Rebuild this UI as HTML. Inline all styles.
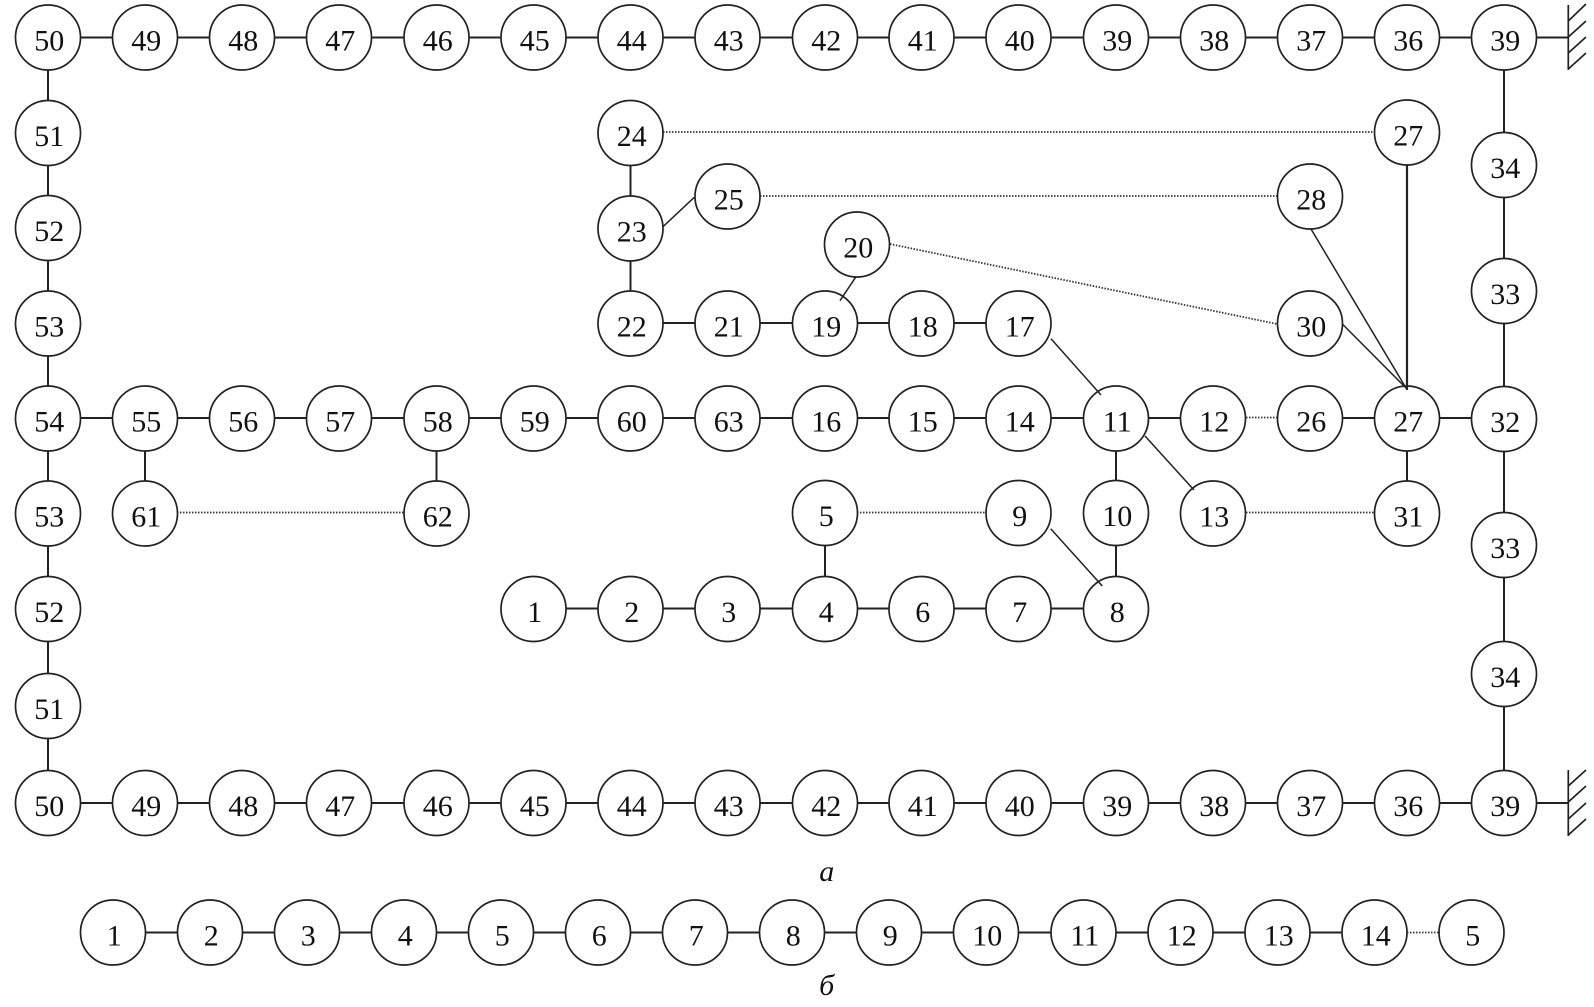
<!DOCTYPE html>
<html>
<head>
<meta charset="utf-8">
<style>
html,body{margin:0;padding:0;background:#fff;}
svg{display:block;filter:blur(.35px);}
.l line{stroke:#222;stroke-width:2;}
.t line{stroke:#222;stroke-width:1.5;}
.w line{stroke:#222;stroke-width:1.7;}
.d line{stroke:#333;stroke-width:1.8;stroke-dasharray:1.5 1.5;}
.n circle{fill:#fff;stroke:#222;stroke-width:1.7;}
.n text{font-family:"Liberation Serif",serif;font-size:30px;fill:#111;text-anchor:middle;transform:translate(1.2px,12.8px);}
.c{font-family:"Liberation Serif",serif;font-style:italic;font-size:30px;fill:#111;text-anchor:middle;}
</style>
</head>
<body>
<svg width="1594" height="1007" viewBox="0 0 1594 1007" xmlns="http://www.w3.org/2000/svg">
<rect width="1594" height="1007" fill="#fff"/>
<g class="l">
<line x1="48" y1="37.5" x2="1568" y2="37.5"/>
<line x1="48" y1="803" x2="1568" y2="803"/>
<line x1="48" y1="37.5" x2="48" y2="803"/>
<line x1="1504" y1="37.5" x2="1504" y2="803"/>
<line x1="48" y1="418" x2="1213" y2="418"/>
<line x1="1310" y1="418" x2="1504" y2="418"/>
<line x1="145" y1="418.5" x2="145" y2="513"/>
<line x1="436.5" y1="418.5" x2="436.5" y2="513"/>
<line x1="533.5" y1="608.5" x2="1116" y2="608.5"/>
<line x1="825" y1="513" x2="825" y2="609"/>
<line x1="1116" y1="418.5" x2="1116" y2="609"/>
<line x1="1407" y1="418.5" x2="1407" y2="513"/>
<line x1="630.5" y1="133" x2="630.5" y2="323.5"/>
<line x1="630.5" y1="323" x2="1019" y2="323"/>
<line x1="113" y1="932.5" x2="1375" y2="932.5"/>
</g>
<g class="d">
<line x1="663" y1="132" x2="1375" y2="132"/>
<line x1="760" y1="196" x2="1277" y2="196"/>
<line x1="890" y1="244" x2="1277" y2="324"/>
<line x1="1246" y1="417.5" x2="1277" y2="417.5"/>
<line x1="1246" y1="512.5" x2="1374" y2="512.5"/>
<line x1="857" y1="512.5" x2="986" y2="512.5"/>
<line x1="177" y1="512.5" x2="404" y2="512.5"/>
<line x1="1407" y1="932.5" x2="1439" y2="932.5"/>
</g>
<g class="w">
<line x1="1568.3" y1="5" x2="1568.3" y2="70"/>
<line x1="1568.3" y1="21" x2="1586" y2="4"/>
<line x1="1568.3" y1="37" x2="1586" y2="21"/>
<line x1="1568.3" y1="53" x2="1586" y2="37"/>
<line x1="1568.3" y1="69" x2="1586" y2="53"/>
<line x1="1568.3" y1="770" x2="1568.3" y2="836"/>
<line x1="1568.3" y1="786" x2="1586" y2="770"/>
<line x1="1568.3" y1="802" x2="1586" y2="786"/>
<line x1="1568.3" y1="819" x2="1586" y2="803"/>
<line x1="1568.3" y1="835" x2="1586" y2="819"/>
</g>
<g class="n">
<g transform="translate(48 37.5)"><circle r="32.5"/><text>50</text></g>
<g transform="translate(145 37.5)"><circle r="32.5"/><text>49</text></g>
<g transform="translate(242 37.5)"><circle r="32.5"/><text>48</text></g>
<g transform="translate(339 37.5)"><circle r="32.5"/><text>47</text></g>
<g transform="translate(436.5 37.5)"><circle r="32.5"/><text>46</text></g>
<g transform="translate(533.5 37.5)"><circle r="32.5"/><text>45</text></g>
<g transform="translate(630.5 37.5)"><circle r="32.5"/><text>44</text></g>
<g transform="translate(727.5 37.5)"><circle r="32.5"/><text>43</text></g>
<g transform="translate(825 37.5)"><circle r="32.5"/><text>42</text></g>
<g transform="translate(921.5 37.5)"><circle r="32.5"/><text>41</text></g>
<g transform="translate(1018.5 37.5)"><circle r="32.5"/><text>40</text></g>
<g transform="translate(1116 37.5)"><circle r="32.5"/><text>39</text></g>
<g transform="translate(1213 37.5)"><circle r="32.5"/><text>38</text></g>
<g transform="translate(1310 37.5)"><circle r="32.5"/><text>37</text></g>
<g transform="translate(1407 37.5)"><circle r="32.5"/><text>36</text></g>
<g transform="translate(1504 37.5)"><circle r="32.5"/><text>39</text></g>
<g transform="translate(48 803)"><circle r="32.5"/><text>50</text></g>
<g transform="translate(145 803)"><circle r="32.5"/><text>49</text></g>
<g transform="translate(242 803)"><circle r="32.5"/><text>48</text></g>
<g transform="translate(339 803)"><circle r="32.5"/><text>47</text></g>
<g transform="translate(436.5 803)"><circle r="32.5"/><text>46</text></g>
<g transform="translate(533.5 803)"><circle r="32.5"/><text>45</text></g>
<g transform="translate(630.5 803)"><circle r="32.5"/><text>44</text></g>
<g transform="translate(727.5 803)"><circle r="32.5"/><text>43</text></g>
<g transform="translate(825 803)"><circle r="32.5"/><text>42</text></g>
<g transform="translate(921.5 803)"><circle r="32.5"/><text>41</text></g>
<g transform="translate(1018.5 803)"><circle r="32.5"/><text>40</text></g>
<g transform="translate(1116 803)"><circle r="32.5"/><text>39</text></g>
<g transform="translate(1213 803)"><circle r="32.5"/><text>38</text></g>
<g transform="translate(1310 803)"><circle r="32.5"/><text>37</text></g>
<g transform="translate(1407 803)"><circle r="32.5"/><text>36</text></g>
<g transform="translate(1504 803)"><circle r="32.5"/><text>39</text></g>
<g transform="translate(48 133)"><circle r="32.5"/><text>51</text></g>
<g transform="translate(48 228)"><circle r="32.5"/><text>52</text></g>
<g transform="translate(48 323.5)"><circle r="32.5"/><text>53</text></g>
<g transform="translate(48 418.5)"><circle r="32.5"/><text>54</text></g>
<g transform="translate(48 513.5)"><circle r="32.5"/><text>53</text></g>
<g transform="translate(48 609)"><circle r="32.5"/><text>52</text></g>
<g transform="translate(48 706)"><circle r="32.5"/><text>51</text></g>
<g transform="translate(1504 165)"><circle r="32.5"/><text>34</text></g>
<g transform="translate(1504 291)"><circle r="32.5"/><text>33</text></g>
<g transform="translate(1504 419)"><circle r="32.5"/><text>32</text></g>
<g transform="translate(1504 545)"><circle r="32.5"/><text>33</text></g>
<g transform="translate(1504 674)"><circle r="32.5"/><text>34</text></g>
<g transform="translate(145 418.5)"><circle r="32.5"/><text>55</text></g>
<g transform="translate(242 418.5)"><circle r="32.5"/><text>56</text></g>
<g transform="translate(339 418.5)"><circle r="32.5"/><text>57</text></g>
<g transform="translate(436.5 418.5)"><circle r="32.5"/><text>58</text></g>
<g transform="translate(533.5 418.5)"><circle r="32.5"/><text>59</text></g>
<g transform="translate(630.5 418.5)"><circle r="32.5"/><text>60</text></g>
<g transform="translate(727.5 418.5)"><circle r="32.5"/><text>63</text></g>
<g transform="translate(825 418.5)"><circle r="32.5"/><text>16</text></g>
<g transform="translate(921.5 418.5)"><circle r="32.5"/><text>15</text></g>
<g transform="translate(1018.5 418.5)"><circle r="32.5"/><text>14</text></g>
<g transform="translate(1116 418.5)"><circle r="32.5"/><text>11</text></g>
<g transform="translate(1213 418.5)"><circle r="32.5"/><text>12</text></g>
<g transform="translate(1310 418.5)"><circle r="32.5"/><text>26</text></g>
<g transform="translate(1407 418.5)"><circle r="32.5"/><text>27</text></g>
<g transform="translate(145 513.5)"><circle r="32.5"/><text>61</text></g>
<g transform="translate(436.5 513.5)"><circle r="32.5"/><text>62</text></g>
<g transform="translate(825 513)"><circle r="32.5"/><text>5</text></g>
<g transform="translate(1018.5 513)"><circle r="32.5"/><text>9</text></g>
<g transform="translate(1116 513)"><circle r="32.5"/><text>10</text></g>
<g transform="translate(1213 513.5)"><circle r="32.5"/><text>13</text></g>
<g transform="translate(1407 513.5)"><circle r="32.5"/><text>31</text></g>
<g transform="translate(533.5 609)"><circle r="32.5"/><text>1</text></g>
<g transform="translate(630.5 609)"><circle r="32.5"/><text>2</text></g>
<g transform="translate(727.5 609)"><circle r="32.5"/><text>3</text></g>
<g transform="translate(825 609)"><circle r="32.5"/><text>4</text></g>
<g transform="translate(921.5 609)"><circle r="32.5"/><text>6</text></g>
<g transform="translate(1018.5 609)"><circle r="32.5"/><text>7</text></g>
<g transform="translate(1116 609)"><circle r="32.5"/><text>8</text></g>
<g transform="translate(630.5 133)"><circle r="32.5"/><text>24</text></g>
<g transform="translate(630.5 228.5)"><circle r="32.5"/><text>23</text></g>
<g transform="translate(630.5 323.5)"><circle r="32.5"/><text>22</text></g>
<g transform="translate(727.5 196.5)"><circle r="32.5"/><text>25</text></g>
<g transform="translate(727.5 323.5)"><circle r="32.5"/><text>21</text></g>
<g transform="translate(825 323.5)"><circle r="32.5"/><text>19</text></g>
<g transform="translate(857 244.5)"><circle r="32.5"/><text>20</text></g>
<g transform="translate(921.5 323.5)"><circle r="32.5"/><text>18</text></g>
<g transform="translate(1018.5 323.5)"><circle r="32.5"/><text>17</text></g>
<g transform="translate(1310 196.5)"><circle r="32.5"/><text>28</text></g>
<g transform="translate(1310 323.5)"><circle r="32.5"/><text>30</text></g>
<g transform="translate(1407 132.5)"><circle r="32.5"/><text>27</text></g>
<g transform="translate(113 932.5)"><circle r="32.5"/><text>1</text></g>
<g transform="translate(210 932.5)"><circle r="32.5"/><text>2</text></g>
<g transform="translate(307 932.5)"><circle r="32.5"/><text>3</text></g>
<g transform="translate(404 932.5)"><circle r="32.5"/><text>4</text></g>
<g transform="translate(501 932.5)"><circle r="32.5"/><text>5</text></g>
<g transform="translate(598 932.5)"><circle r="32.5"/><text>6</text></g>
<g transform="translate(695 932.5)"><circle r="32.5"/><text>7</text></g>
<g transform="translate(792 932.5)"><circle r="32.5"/><text>8</text></g>
<g transform="translate(889 932.5)"><circle r="32.5"/><text>9</text></g>
<g transform="translate(986 932.5)"><circle r="32.5"/><text>10</text></g>
<g transform="translate(1083.5 932.5)"><circle r="32.5"/><text>11</text></g>
<g transform="translate(1180.5 932.5)"><circle r="32.5"/><text>12</text></g>
<g transform="translate(1277.5 932.5)"><circle r="32.5"/><text>13</text></g>
<g transform="translate(1374.5 932.5)"><circle r="32.5"/><text>14</text></g>
<g transform="translate(1471.5 932.5)"><circle r="32.5"/><text>5</text></g>
</g>
<g class="t">
<line x1="1311" y1="229" x2="1406" y2="388"/>
<line x1="1342.3" y1="324" x2="1406" y2="388"/>
<line x1="1051" y1="338.7" x2="1101" y2="395"/>
<line x1="1145" y1="436" x2="1194" y2="490"/>
<line x1="1050.7" y1="528.7" x2="1102.3" y2="586"/>
<line x1="663" y1="226.7" x2="694.3" y2="197.3"/>
<line x1="856" y1="276.7" x2="840" y2="300.7"/>
</g>
<line x1="1407" y1="165" x2="1407" y2="390" stroke="#222" stroke-width="2.2"/>
<text class="c" x="826.7" y="881">а</text>
<text class="c" x="826.7" y="995">б</text>
</svg>
</body>
</html>
